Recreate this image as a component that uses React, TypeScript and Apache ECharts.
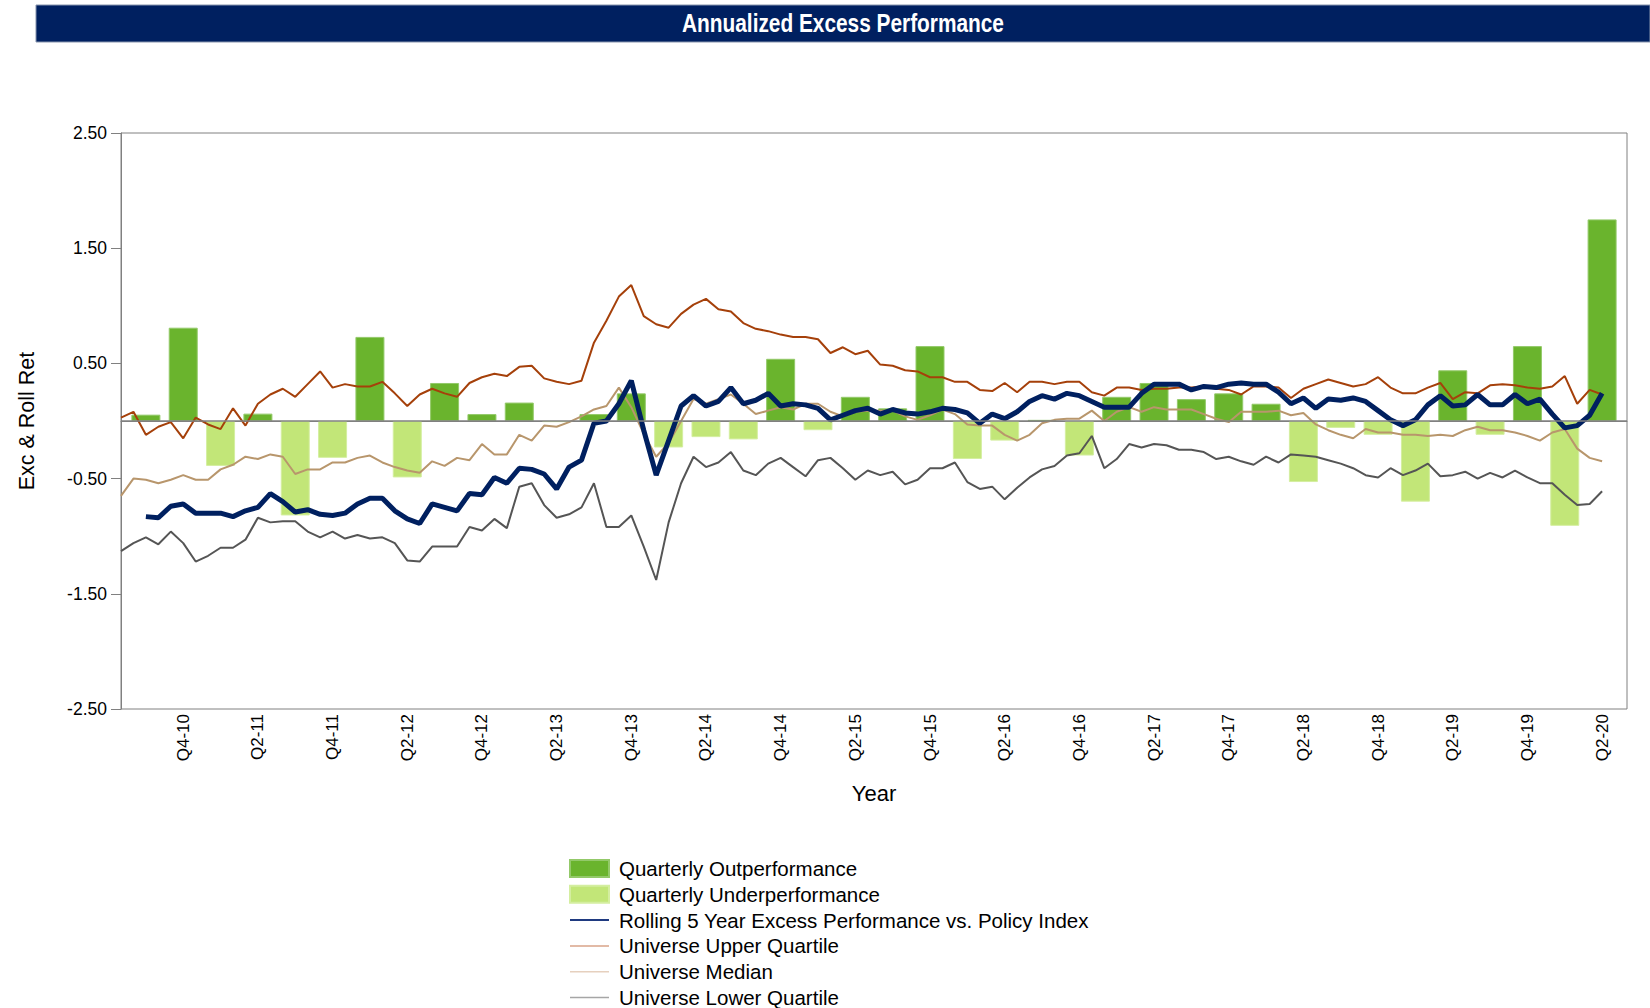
import React, { useEffect, useRef } from "react";
import * as echarts from "echarts";

// Monthly category axis: Jul-2010 .. Aug-2020
const months: string[] = [];
for (let i = 0; i < 122; i++) {
  const y = 2010 + Math.floor((6 + i) / 12);
  const mo = ((6 + i) % 12) + 1;
  months.push(`${y}-${String(mo).padStart(2, "0")}`);
}

const tickLabels = [
  "Q4-10", "Q2-11", "Q4-11", "Q2-12", "Q4-12", "Q2-13", "Q4-13", "Q2-14", "Q4-14", "Q2-15",
  "Q4-15", "Q2-16", "Q4-16", "Q2-17", "Q4-17", "Q2-18", "Q4-18", "Q2-19", "Q4-19", "Q2-20",
];

// Quarterly excess (Q3-10 .. Q2-20), placed at quarter-end months
const quarterlyExcess = [
  0.055, 0.81, -0.39, 0.064, -0.82, -0.32, 0.73, -0.49, 0.33, 0.06,
  0.16, -0.01, 0.06, 0.24, -0.23, -0.14, -0.16, 0.54, -0.08, 0.21,
  0.11, 0.65, -0.33, -0.17, 0.01, -0.30, 0.21, 0.33, 0.19, 0.24,
  0.15, -0.53, -0.06, -0.12, -0.70, 0.44, -0.12, 0.65, -0.91, 1.75,
];

// Monthly, Jul-2010 .. Jun-2020
const upperQuartile = [
  0.03, 0.08, -0.12, -0.05, -0.01, -0.15, 0.03, -0.03, -0.07, 0.11,
  -0.04, 0.15, 0.23, 0.28, 0.21, 0.32, 0.43, 0.29, 0.32, 0.30,
  0.30, 0.34, 0.24, 0.13, 0.23, 0.28, 0.24, 0.21, 0.33, 0.38,
  0.41, 0.39, 0.47, 0.48, 0.37, 0.34, 0.32, 0.35, 0.68, 0.87,
  1.08, 1.18, 0.91, 0.84, 0.81, 0.93, 1.01, 1.06, 0.97, 0.95,
  0.85, 0.80, 0.78, 0.75, 0.73, 0.73, 0.71, 0.59, 0.64, 0.58,
  0.61, 0.49, 0.48, 0.44, 0.43, 0.38, 0.38, 0.34, 0.34, 0.27,
  0.26, 0.33, 0.25, 0.34, 0.34, 0.32, 0.34, 0.34, 0.25, 0.22,
  0.29, 0.29, 0.27, 0.28, 0.28, 0.29, 0.29, 0.30, 0.28, 0.27,
  0.23, 0.30, 0.30, 0.29, 0.20, 0.28, 0.32, 0.36, 0.33, 0.30,
  0.32, 0.38, 0.29, 0.24, 0.24, 0.29, 0.33, 0.19, 0.25, 0.24,
  0.31, 0.32, 0.31, 0.29, 0.28, 0.30, 0.39, 0.15, 0.27, 0.23,
];

const median = [
  -0.65, -0.50, -0.51, -0.54, -0.51, -0.47, -0.51, -0.51, -0.42, -0.38,
  -0.31, -0.33, -0.29, -0.31, -0.46, -0.42, -0.42, -0.36, -0.36, -0.32,
  -0.30, -0.36, -0.40, -0.43, -0.45, -0.35, -0.39, -0.32, -0.34, -0.20,
  -0.29, -0.29, -0.12, -0.17, -0.04, -0.05, -0.01, 0.04, 0.10, 0.13,
  0.29, 0.12, -0.11, -0.31, -0.19, 0.00, 0.19, 0.15, 0.19, 0.23,
  0.15, 0.06, 0.09, 0.12, 0.10, 0.15, 0.15, 0.08, 0.04, 0.08,
  0.09, 0.09, 0.09, 0.04, 0.01, 0.05, 0.10, 0.06, -0.03, -0.04,
  -0.04, -0.12, -0.17, -0.12, -0.02, 0.01, 0.02, 0.02, 0.09, 0.00,
  0.08, 0.12, 0.08, 0.12, 0.10, 0.10, 0.10, 0.06, 0.02, -0.01,
  0.08, 0.08, 0.08, 0.09, 0.05, 0.07, -0.03, -0.08, -0.12, -0.15,
  -0.07, -0.10, -0.10, -0.12, -0.12, -0.13, -0.12, -0.13, -0.08, -0.05,
  -0.08, -0.08, -0.10, -0.13, -0.17, -0.10, -0.07, -0.24, -0.32, -0.35,
];

const lowerQuartile = [
  -1.13, -1.06, -1.01, -1.07, -0.96, -1.06, -1.22, -1.17, -1.10, -1.10,
  -1.03, -0.84, -0.88, -0.87, -0.87, -0.96, -1.01, -0.96, -1.02, -0.99,
  -1.02, -1.01, -1.06, -1.21, -1.22, -1.09, -1.09, -1.09, -0.92, -0.95,
  -0.85, -0.93, -0.57, -0.54, -0.73, -0.84, -0.81, -0.75, -0.54, -0.92,
  -0.92, -0.82, -1.09, -1.38, -0.88, -0.54, -0.31, -0.40, -0.36, -0.27,
  -0.43, -0.47, -0.37, -0.32, -0.40, -0.48, -0.34, -0.32, -0.41, -0.51,
  -0.43, -0.47, -0.44, -0.55, -0.51, -0.41, -0.41, -0.36, -0.53, -0.59,
  -0.57, -0.68, -0.58, -0.49, -0.42, -0.39, -0.30, -0.28, -0.13, -0.41,
  -0.33, -0.20, -0.23, -0.20, -0.21, -0.25, -0.25, -0.27, -0.33, -0.31,
  -0.35, -0.38, -0.31, -0.36, -0.29, -0.30, -0.31, -0.34, -0.37, -0.41,
  -0.47, -0.49, -0.41, -0.47, -0.43, -0.37, -0.48, -0.47, -0.44, -0.50,
  -0.45, -0.49, -0.43, -0.49, -0.54, -0.54, -0.64, -0.73, -0.72, -0.61,
];

// Monthly, Sep-2010 .. Jun-2020
const rolling5Year = [
  -0.83, -0.84, -0.74, -0.72, -0.80, -0.80, -0.80, -0.83,
  -0.78, -0.75, -0.63, -0.70, -0.79, -0.77, -0.81, -0.82, -0.80, -0.72,
  -0.67, -0.67, -0.78, -0.85, -0.89, -0.72, -0.75, -0.78, -0.63, -0.64,
  -0.49, -0.54, -0.41, -0.42, -0.46, -0.59, -0.40, -0.34, -0.02, 0.00,
  0.15, 0.35, -0.08, -0.47, -0.17, 0.13, 0.22, 0.13, 0.17, 0.29,
  0.15, 0.18, 0.24, 0.13, 0.15, 0.14, 0.11, 0.01, 0.05, 0.09,
  0.11, 0.06, 0.10, 0.07, 0.06, 0.08, 0.11, 0.10, 0.07, -0.02,
  0.06, 0.02, 0.08, 0.17, 0.22, 0.19, 0.24, 0.22, 0.17, 0.12,
  0.12, 0.12, 0.24, 0.32, 0.32, 0.32, 0.27, 0.30, 0.29, 0.32,
  0.33, 0.32, 0.32, 0.25, 0.15, 0.20, 0.11, 0.19, 0.18, 0.20,
  0.17, 0.09, 0.01, -0.04, 0.01, 0.14, 0.22, 0.13, 0.14, 0.23,
  0.14, 0.14, 0.23, 0.15, 0.19, 0.06, -0.06, -0.04, 0.05, 0.24,
];

const SANS = "'Liberation Sans', Arial, sans-serif";

export default function App() {
  const ref = useRef<HTMLDivElement>(null);
  useEffect(() => {
    if (!ref.current) return;
    const chart = echarts.init(ref.current, undefined, { renderer: "svg" });

    const n = months.length;
    const outData: (number | string)[] = new Array(n).fill("-");
    const underData: (number | string)[] = new Array(n).fill("-");
    quarterlyExcess.forEach((v, k) => {
      const idx = 2 + 3 * k;
      if (v >= 0) outData[idx] = v;
      else underData[idx] = v;
    });
    const pad = (arr: number[], start: number) => {
      const d: (number | string)[] = new Array(n).fill("-");
      arr.forEach((v, i) => (d[start + i] = v));
      return d;
    };

    const tickMonths = months.filter((m) => m.endsWith("-12") || m.endsWith("-06"));
    const isTick = (val: string) => tickMonths.indexOf(val) >= 0;
    const fmtTick = (val: string) => {
      const k = tickMonths.indexOf(val);
      return k >= 0 && k < tickLabels.length ? tickLabels[k] : "";
    };

    const names = [
      "Quarterly Outperformance",
      "Quarterly Underperformance",
      "Rolling 5 Year Excess Performance vs. Policy Index",
      "Universe Upper Quartile",
      "Universe Median",
      "Universe Lower Quartile",
    ];
    const hideSym = { opacity: 0, color: "transparent", borderWidth: 0 };

    chart.setOption({
      animation: false,
      backgroundColor: "#ffffff",
      graphic: [
        {
          type: "rect",
          shape: { x: 36, y: 5, width: 1614, height: 37 },
          style: { fill: "#002060", stroke: "#8794ad", lineWidth: 1 },
        },
        {
          type: "text",
          x: 843,
          y: 23,
          scaleX: 0.834,
          style: {
            text: "Annualized Excess Performance",
            fill: "#ffffff",
            fontSize: 25,
            fontWeight: "bold",
            fontFamily: SANS,
            align: "center",
            verticalAlign: "middle",
          },
        },
      ],
      grid: {
        left: 121,
        right: 23,
        top: 133,
        bottom: 299,
        show: true,
        borderColor: "#808080",
        borderWidth: 1,
      },
      legend: {
        orient: "vertical",
        left: 569,
        top: 858,
        height: 160,
        padding: 0,
        itemWidth: 39,
        itemHeight: 17,
        itemGap: 4.8,
        selectedMode: false,
        textStyle: {
          fontFamily: SANS,
          fontSize: 20.5,
          color: "#000000",
          lineHeight: 20,
          padding: [0, 0, 0, 5],
        },
        data: [
          { name: names[0], icon: "rect" },
          { name: names[1], icon: "rect" },
          { name: names[2], lineStyle: { width: 2, color: "#1F3A80" }, itemStyle: hideSym },
          { name: names[3], lineStyle: { width: 2, color: "#E2BAA6" }, itemStyle: hideSym },
          { name: names[4], lineStyle: { width: 1.5, color: "#E6D0BE" }, itemStyle: hideSym },
          { name: names[5], lineStyle: { width: 1.5, color: "#A6A6A6" }, itemStyle: hideSym },
        ],
      },
      xAxis: {
        type: "category",
        data: months,
        boundaryGap: false,
        name: "Year",
        nameLocation: "middle",
        nameGap: 73,
        nameTextStyle: { fontFamily: SANS, fontSize: 22, color: "#000000" },
        axisLine: { show: true, lineStyle: { color: "#808080", width: 1 } },
        axisTick: { show: false },
        splitLine: { show: false },
        axisLabel: {
          interval: (_i: number, val: string) => isTick(val),
          formatter: (val: string) => fmtTick(val),
          rotate: 90,
          margin: 5,
          fontFamily: SANS,
          fontSize: 17,
          color: "#000000",
        },
      },
      yAxis: {
        type: "value",
        min: -2.5,
        max: 2.5,
        interval: 1,
        name: "Exc & Roll Ret",
        nameLocation: "middle",
        nameGap: 83,
        nameRotate: 90,
        nameTextStyle: { fontFamily: SANS, fontSize: 21.5, color: "#000000" },
        axisLine: { show: true, lineStyle: { color: "#808080", width: 1 } },
        axisTick: { show: true, inside: false, length: 10, lineStyle: { color: "#808080" } },
        splitLine: { show: false },
        axisLabel: {
          formatter: (v: number) => v.toFixed(2),
          margin: 14,
          fontFamily: SANS,
          fontSize: 17.5,
          color: "#000000",
        },
      },
      series: [
        {
          name: names[0],
          type: "bar",
          data: outData,
          barWidth: 29,
          barGap: "-100%",
          itemStyle: { color: "#6AB42D", borderColor: "#93C969", borderWidth: 1 },
          markLine: {
            silent: true,
            symbol: "none",
            label: { show: false },
            lineStyle: { color: "#808080", type: "solid", width: 1.5 },
            data: [{ yAxis: 0 }],
          },
        },
        {
          name: names[1],
          type: "bar",
          data: underData,
          barWidth: 29,
          barGap: "-100%",
          itemStyle: { color: "#C2E678", borderColor: "#D4EEA0", borderWidth: 1 },
        },
        {
          name: names[3],
          type: "line",
          data: pad(upperQuartile, 0),
          symbol: "none",
          lineStyle: { color: "#A5400A", width: 2 },
          itemStyle: { color: "#A5400A" },
        },
        {
          name: names[4],
          type: "line",
          data: pad(median, 0),
          symbol: "none",
          lineStyle: { color: "#B8966C", width: 2 },
          itemStyle: { color: "#B8966C" },
        },
        {
          name: names[5],
          type: "line",
          data: pad(lowerQuartile, 0),
          symbol: "none",
          lineStyle: { color: "#555555", width: 2 },
          itemStyle: { color: "#555555" },
        },
        {
          name: names[2],
          type: "line",
          data: pad(rolling5Year, 2),
          symbol: "none",
          lineStyle: { color: "#002060", width: 5 },
          itemStyle: { color: "#002060" },
        },
      ],
    });
    return () => chart.dispose();
  }, []);

  return (
    <div
      ref={ref}
      style={{ position: "fixed", left: 0, top: 0, width: 1650, height: 1008, background: "#fff" }}
    />
  );
}
